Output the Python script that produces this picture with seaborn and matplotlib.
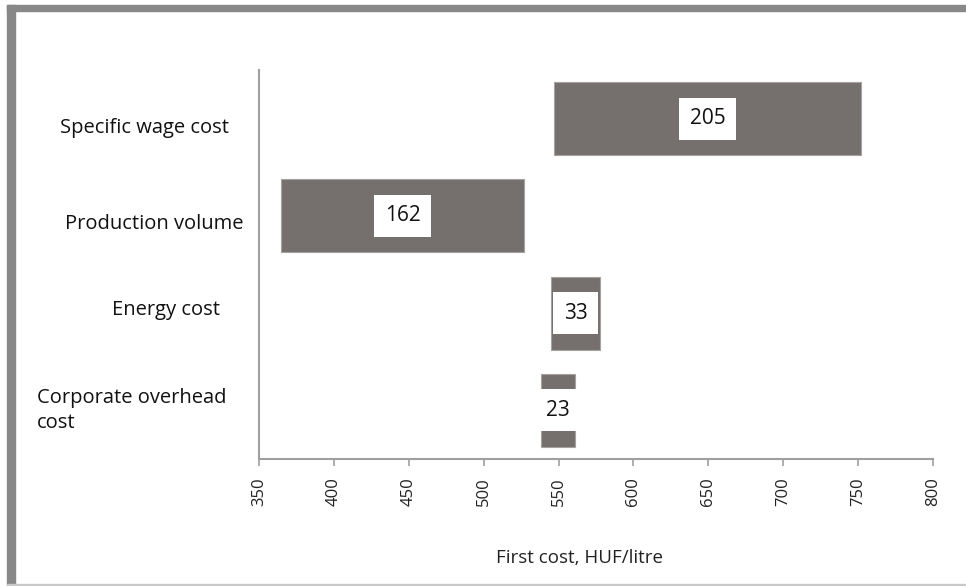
import matplotlib
matplotlib.use("Agg")
import matplotlib.pyplot as plt
import matplotlib.transforms as mtransforms
from matplotlib.patches import Rectangle
import seaborn as sns
import pandas as pd

# Cost drivers: each bar spans from its low to its high first-cost value
categories = ["Specific wage cost", "Production volume", "Energy cost",
              "Corporate overhead\ncost"]
low_values = [547, 365, 545, 538]
ranges = [205, 162, 33, 23]
x_ticks = [350, 400, 450, 500, 550, 600, 650, 700, 750, 800]
x_label = "First cost, HUF/litre"

sns.set_theme(style="white")
plt.rcParams["font.family"] = ["Open Sans", "DejaVu Sans"]

df = pd.DataFrame({"driver": categories, "range": ranges, "low": low_values})

W, H = 966, 586
fig = plt.figure(figsize=(W / 100, H / 100), dpi=100)
ax = fig.add_axes([259 / W, 1 - 459 / H, (933 - 259) / W, (459 - 70) / H])

bar_color = "#75706e"
sns.barplot(data=df, x="range", y="driver", orient="h", ax=ax,
            color=bar_color, saturation=1, width=0.75,
            left=df["low"].to_numpy(), edgecolor="#a6a2a0", linewidth=0.8)

ax.set_xlim(350, 800)
ax.set_ylim(len(categories) - 0.5, -0.5)
ax.set_xticks(x_ticks)
ax.set_xticklabels([str(t) for t in x_ticks], rotation=90, fontsize=12,
                   color="#222222")
ax.tick_params(axis="x", length=5, width=1.2, color="#a0a0a0", pad=8,
               bottom=True)
ax.tick_params(axis="y", left=False)

# value labels in white boxes at the middle of each bar
for i, (lo, r) in enumerate(zip(low_values, ranges)):
    ax.text(lo + r / 2, i, str(r), ha="center", va="center", fontsize=15,
            color="#111111",
            bbox=dict(boxstyle="square,pad=0.5", facecolor="white",
                      edgecolor="none"))

# category labels placed left of the axis
ax.set_yticklabels([])
ax.set_ylabel("")
label_x = [145, 154, 166, 37]
label_ha = ["center", "center", "center", "left"]
label_dy = [0.1, 0.08, -0.03, 0.0]
trans = mtransforms.blended_transform_factory(fig.transFigure, ax.transData)
for i, name in enumerate(categories):
    ax.text(label_x[i] / W, i + label_dy[i], name, transform=trans,
            ha=label_ha[i], va="center", fontsize=14.5, color="#111111",
            multialignment="left", linespacing=1.35)

ax.set_xlabel(x_label, fontsize=13.5, color="#222222")
ax.xaxis.set_label_coords((580 - 259) / (933 - 259), (459 - 549) / (459 - 70))

for side in ["top", "right"]:
    ax.spines[side].set_visible(False)
for side in ["left", "bottom"]:
    ax.spines[side].set_color("#a0a0a0")
    ax.spines[side].set_linewidth(1.5)

# frame around the figure
fig.patches.append(Rectangle((7 / W, 0), 8 / W, 1 - 5 / H,
                             transform=fig.transFigure, color="#888888",
                             zorder=5))
fig.patches.append(Rectangle((7 / W, 1 - 11 / H), 1, 6 / H,
                             transform=fig.transFigure, color="#888888",
                             zorder=5))
fig.patches.append(Rectangle((7 / W, 1 - 585 / H), 1, 1.5 / H,
                             transform=fig.transFigure, color="#c8c8c8",
                             zorder=5))

fig.savefig("out.png", dpi=100, facecolor="white")
